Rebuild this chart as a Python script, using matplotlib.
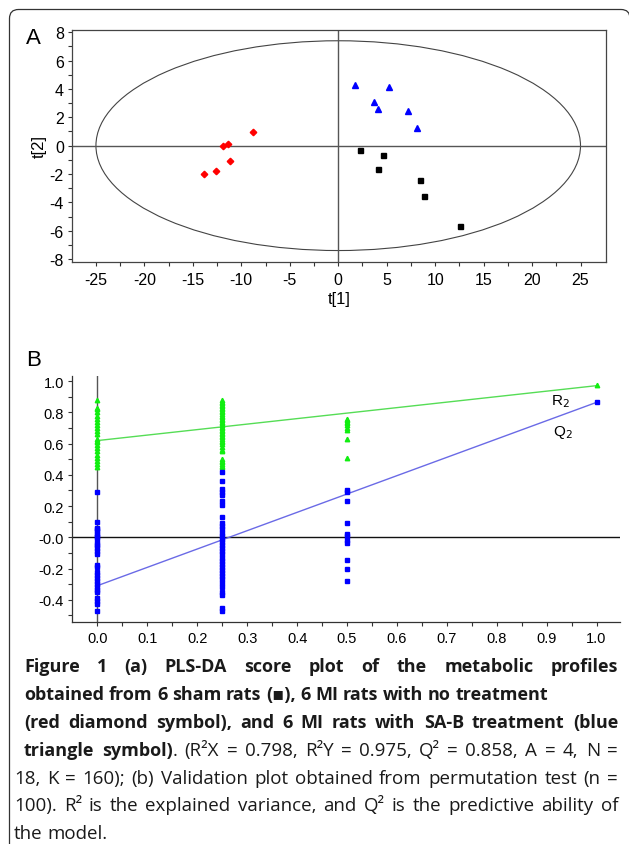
import matplotlib
matplotlib.use("Agg")
import matplotlib.pyplot as plt
from matplotlib.patches import Ellipse, FancyBboxPatch
from matplotlib.transforms import IdentityTransform
import numpy as np

plt.rcParams['font.family'] = ['Liberation Sans', 'DejaVu Sans']
plt.rcParams['axes.unicode_minus'] = False

# ---- panel A: PLS-DA scores ----
sham_t1 = [2.24, 4.59, 4.06, 8.44, 8.90, 12.54]
sham_t2 = [-0.31, -0.64, -1.67, -2.42, -3.55, -5.65]
mi_t1 = [-8.82, -11.42, -11.88, -11.13, -12.62, -13.90]
mi_t2 = [0.94, 0.12, -0.02, -1.06, -1.81, -2.00]
sab_t1 = [1.70, 5.26, 3.68, 4.06, 7.16, 8.15]
sab_t2 = [4.31, 4.12, 3.11, 2.59, 2.47, 1.27]
ellipse_axes = (25.0, 7.4)

# ---- panel B: permutation test ----
r2_at_0 = [0.88, 0.83, 0.82, 0.80, 0.78, 0.76, 0.74, 0.72, 0.70, 0.68, 0.66,
           0.63, 0.62, 0.61, 0.59, 0.57, 0.55, 0.53, 0.51, 0.49, 0.47, 0.45]
r2_at_025 = [0.88, 0.87, 0.86, 0.85, 0.84, 0.83, 0.82, 0.81, 0.80, 0.79, 0.78,
             0.77, 0.76, 0.75, 0.74, 0.73, 0.72, 0.71, 0.70, 0.69, 0.68, 0.67,
             0.66, 0.65, 0.64, 0.63, 0.62, 0.61, 0.60, 0.58, 0.56, 0.55, 0.50,
             0.49, 0.48, 0.47, 0.46, 0.45]
r2_at_05 = [0.76, 0.75, 0.74, 0.73, 0.72, 0.70, 0.69, 0.63, 0.51]
r2_at_1 = [0.975]
q2_at_0 = [0.29, 0.10, 0.06, 0.05, 0.04, 0.02, 0.01, 0.00, -0.02, -0.04, -0.05,
           -0.07, -0.09, -0.11, -0.18, -0.19, -0.22, -0.24, -0.26, -0.28, -0.30,
           -0.32, -0.34, -0.35, -0.39, -0.41, -0.43, -0.47]
q2_at_025 = [0.42, 0.36, 0.31, 0.29, 0.27, 0.23, 0.21, 0.13, 0.09, 0.07, 0.05,
             0.03, 0.01, -0.01, -0.03, -0.05, -0.07, -0.09, -0.11, -0.13, -0.15,
             -0.17, -0.19, -0.21, -0.23, -0.25, -0.27, -0.29, -0.32, -0.35,
             -0.37, -0.45, -0.47]
q2_at_05 = [0.30, 0.29, 0.235, 0.09, 0.02, 0.01, -0.02, -0.035, -0.145, -0.20, -0.28]
q2_at_1 = [0.865]
perm_x = [0.0, 0.25, 0.5, 1.0]
fit_x = [0.0, 1.0]
r2_fit = [0.62, 0.972]
q2_fit = [-0.31, 0.865]
b_yticks = [-0.4, -0.2, 0.0, 0.2, 0.4, 0.6, 0.8, 1.0]
b_yticklabels = ['-0.4', '-0.2', '-0.0', '0.2', '0.4', '0.6', '0.8', '1.0']

W, H = 629, 845
fig = plt.figure(figsize=(W / 100, H / 100), dpi=100)

# rounded frame around the figure
frame = FancyBboxPatch((9.5, -30), 620.5, H - 10.5 + 30,
                       boxstyle="round,pad=0,rounding_size=9",
                       fc='none', ec='#333333', lw=0.9,
                       transform=IdentityTransform())
fig.patches.append(frame)

# ---------- A ----------
axA = fig.add_axes([72.2 / W, 1 - 263.3 / H, (605.7 - 72.2) / W, (263.3 - 30.7) / H])
axA.set_xlim(-27.45, 27.6)
axA.set_ylim(-8.23, 8.18)
axA.add_patch(Ellipse((0, 0), 2 * ellipse_axes[0], 2 * ellipse_axes[1],
                      fill=False, ec='#444444', lw=0.8))
axA.axhline(0, color='#555555', lw=1.0)
axA.axvline(0, color='#555555', lw=1.0)
axA.plot(mi_t1, mi_t2, 'D', color='#ff0000', ms=3.3, ls='none')
axA.plot(sab_t1, sab_t2, '^', color='#0000ff', ms=4.2, ls='none')
axA.plot(sham_t1, sham_t2, 's', color='#000000', ms=3.6, ls='none')
axA.set_xticks(np.arange(-25, 26, 5))
axA.set_xticks(np.arange(-25, 26, 2.5), minor=True)
axA.set_yticks(np.arange(-8, 9, 2))
axA.set_yticks(np.arange(-8, 9, 1), minor=True)
axA.tick_params(which='both', direction='out', length=3, width=0.8,
                labelsize=11.5, color='#333333')
axA.tick_params(axis='x', pad=4)
axA.tick_params(axis='y', pad=3)
for s in axA.spines.values():
    s.set_color('#444444')
    s.set_linewidth(0.9)
axA.set_xlabel('t[1]', fontsize=12, labelpad=3)
axA.set_ylabel('t[2]', fontsize=12, labelpad=2)
fig.text(26 / W, 1 - 44 / H, 'A', fontsize=16)

# ---------- B ----------
axB = fig.add_axes([72.2 / W, 1 - 622.7 / H, (620 - 72.2) / W, (622.7 - 377.3) / H])
axB.set_xlim(-0.0506, 1.047)
axB.set_ylim(-0.541, 1.032)
axB.axhline(0, color='#111111', lw=1.0, zorder=1)
axB.axvline(0, color='#555555', lw=1.0, zorder=1)
axB.plot(fit_x, r2_fit, color='#55dd55', lw=1.0, zorder=2)
axB.plot(fit_x, q2_fit, color='#6a6ae6', lw=1.0, zorder=2)
r2_cols = [r2_at_0, r2_at_025, r2_at_05, r2_at_1]
q2_cols = [q2_at_0, q2_at_025, q2_at_05, q2_at_1]
for xv, vals in zip(perm_x, r2_cols):
    axB.plot(np.full(len(vals), xv), vals, '^', color='#11ee11', ms=3.2,
             ls='none', zorder=3)
for xv, vals in zip(perm_x, q2_cols):
    axB.plot(np.full(len(vals), xv), vals, 's', color='#0000ff', ms=3.0,
             ls='none', zorder=4)
axB.text(0.908, 0.876, r'R$_2$', fontsize=11, va='center', ha='left')
axB.text(0.912, 0.677, r'Q$_2$', fontsize=11, va='center', ha='left')
axB.set_xticks(np.arange(0, 1.01, 0.1))
axB.set_xticklabels(['%.1f' % v for v in np.arange(0, 1.01, 0.1)])
axB.set_xticks(np.arange(0, 1.01, 0.05), minor=True)
axB.set_yticks(b_yticks)
axB.set_yticklabels(b_yticklabels)
axB.set_yticks(np.arange(-0.5, 1.01, 0.1), minor=True)
axB.tick_params(which='both', direction='out', length=3, width=0.8,
                labelsize=10.5, color='#333333')
axB.tick_params(axis='x', pad=4)
axB.tick_params(axis='y', pad=3)
axB.spines['top'].set_visible(False)
axB.spines['right'].set_visible(False)
for s in ('left', 'bottom'):
    axB.spines[s].set_color('#333333')
    axB.spines[s].set_linewidth(0.9)
fig.text(26 / W, 1 - 366 / H, 'B', fontsize=16)

# ---------- caption ----------
cap_font = ['Open Sans', 'DejaVu Sans']
caption = [
    ([("Figure 1 (a) PLS-DA score plot of the metabolic profiles", True)], 24, True),
    ([("obtained from 6 sham rats (\u25aa), 6 MI rats with no treatment", True)], 24, False),
    ([("(red diamond symbol), and 6 MI rats with SA-B treatment (blue", True)], 24, True),
    ([("triangle symbol)", True),
      (". (R\u00b2X = 0.798, R\u00b2Y = 0.975, Q\u00b2 = 0.858, A = 4, N =", False)], 24, True),
    ([("18, K = 160); (b) Validation plot obtained from permutation test (n =", False)], 14, True),
    ([("100). R\u00b2 is the explained variance, and Q\u00b2 is the predictive ability of", False)], 14, True),
    ([("the model.", False)], 14, False),
]
right_edge = 618
base0, line_step = 672, 27.9


def words_of(runs):
    words, cur = [], []
    for text, bold in runs:
        for i, p in enumerate(text.split(' ')):
            if i > 0 and cur:
                words.append(cur)
                cur = []
            if p:
                cur.append((p, bold))
    if cur:
        words.append(cur)
    return words


renderer = fig.canvas.get_renderer()


def width_of(s, bold, size):
    t = fig.text(0, 0, s, fontsize=size, family=cap_font,
                 fontweight='bold' if bold else 'normal')
    w = t.get_window_extent(renderer).width
    t.remove()
    return w


# font sizes picked so that the full lines fill most of the width
probe = 10.0
bold_size = probe * 560 / width_of(caption[2][0][0][0], True, probe)
reg_size = probe * 580 / width_of(caption[5][0][0][0], False, probe)
sizes = {True: bold_size, False: reg_size}

for li, (runs, x0, justify) in enumerate(caption):
    words = words_of(runs)
    widths = [[width_of(s, b, sizes[b]) for s, b in w] for w in words]
    tot = sum(sum(w) for w in widths)
    b0 = words[-1][-1][1]
    space = width_of('a a', b0, sizes[b0]) - 2 * width_of('a', b0, sizes[b0])
    if justify and len(words) > 1:
        gap = (right_edge - x0 - tot) / (len(words) - 1)
    else:
        gap = space
    x = x0
    yb = base0 + li * line_step
    for word, ws in zip(words, widths):
        for (s, b), w in zip(word, ws):
            fig.text(x / W, 1 - yb / H, s, fontsize=sizes[b], family=cap_font,
                     fontweight='bold' if b else 'normal', va='baseline',
                     color='#1a1a1a')
            x += w
        x += gap

fig.savefig('out.png', dpi=100)
